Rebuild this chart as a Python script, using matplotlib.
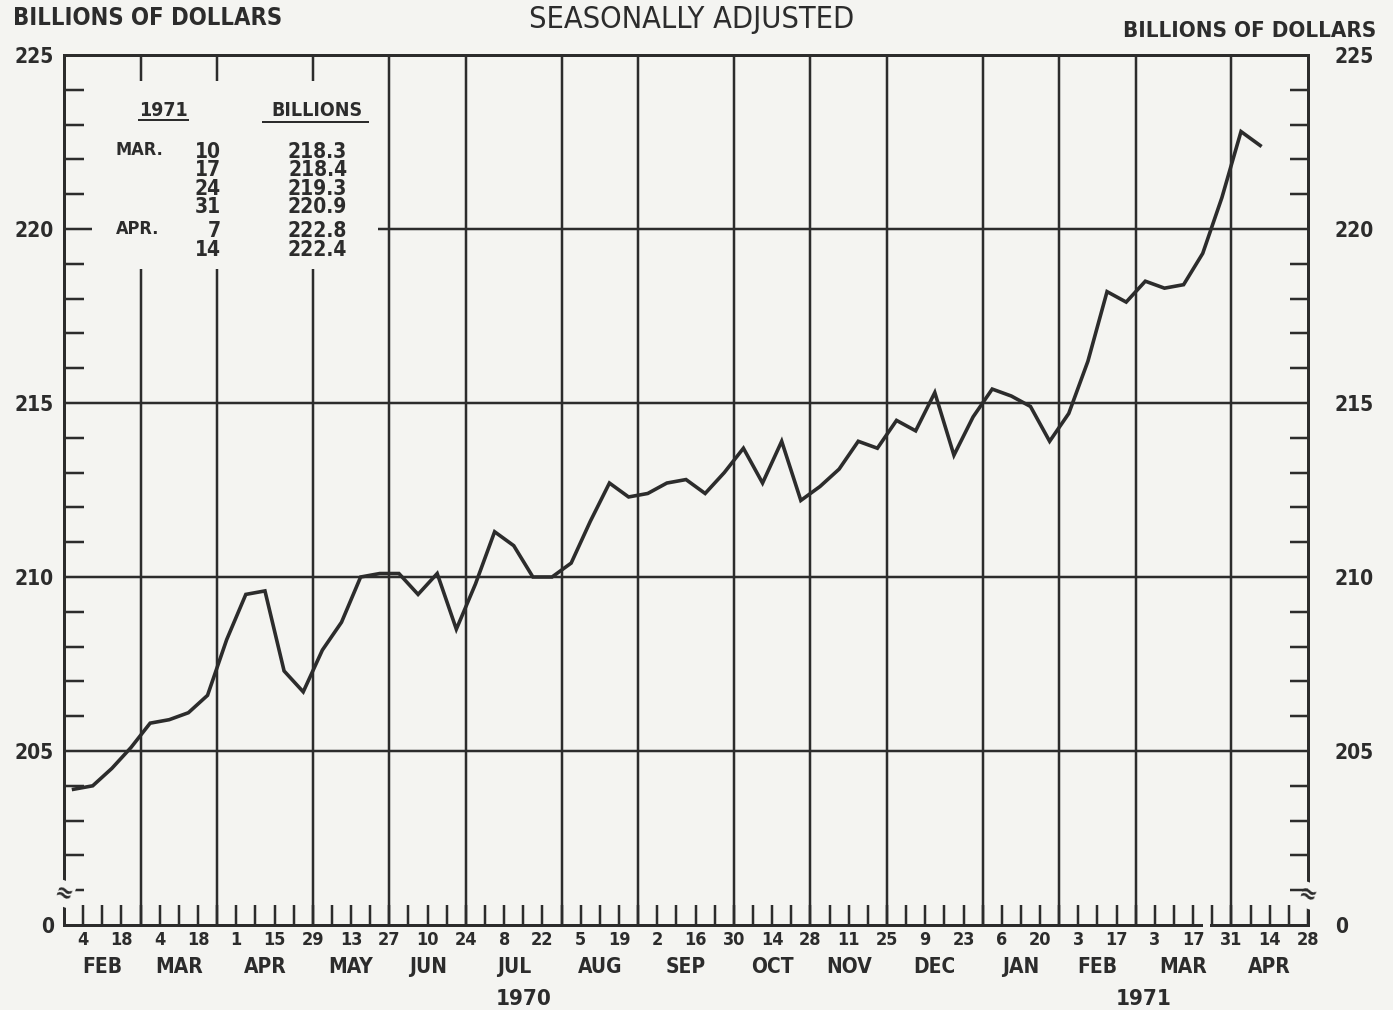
import numpy as np
import matplotlib
matplotlib.use('Agg')
import matplotlib.pyplot as plt

# weekly figures, Wednesdays from Feb 4 1970 to Apr 14 1971 (billions of dollars)
values = [203.9, 204.0, 204.5, 205.1, 205.8, 205.9, 206.1, 206.6, 208.2, 209.5,
          209.6, 207.3, 206.7, 207.9, 208.7, 210.0, 210.1, 210.1, 209.5, 210.1,
          208.5, 209.8, 211.3, 210.9, 210.0, 210.0, 210.4, 211.6, 212.7, 212.3,
          212.4, 212.7, 212.8, 212.4, 213.0, 213.7, 212.7, 213.9, 212.2, 212.6,
          213.1, 213.9, 213.7, 214.5, 214.2, 215.3, 213.5, 214.6, 215.4, 215.2,
          214.9, 213.9, 214.7, 216.2, 218.2, 217.9, 218.5, 218.3, 218.4, 219.3,
          220.9, 222.8, 222.4]

# labels for every other week (Feb 4 1970 ... Apr 28 1971)
day_labels = ['4', '18', '4', '18', '1', '15', '29', '13', '27', '10', '24', '8', '22',
              '5', '19', '2', '16', '30', '14', '28', '11', '25', '9', '23', '6', '20',
              '3', '17', '3', '17', '31', '14', '28']
months = ['FEB', 'MAR', 'APR', 'MAY', 'JUN', 'JUL', 'AUG', 'SEP', 'OCT', 'NOV', 'DEC',
          'JAN', 'FEB', 'MAR', 'APR']
month_ends = [0, 4, 8, 13, 17, 21, 26, 30, 35, 39, 43, 48, 52, 56, 61, 65]
years = ['1970', '1971']

table_month = ['MAR.', '', '', '', 'APR.', '']
table_days = ['10', '17', '24', '31', '7', '14']
table_values = values[-6:]

y_labels = ['0', '205', '210', '215', '220', '225']

BG = '#f4f4f1'
INK = '#2c2c2c'
PX = 72.0 / 100  # points per pixel

plt.rcParams['font.family'] = ['DejaVu Sans']
plt.rcParams['font.weight'] = 'bold'
plt.rcParams['font.stretch'] = 'condensed'

fig = plt.figure(figsize=(13.93, 10.10), dpi=100, facecolor=BG)
ax = fig.add_axes([64 / 1393, 1 - 925 / 1010, 1244 / 1393, 870 / 1010])
ax.set_facecolor(BG)
ax.set_xlim(0, month_ends[-1])
ax.set_ylim(200, 225)

# grid (the table block in the upper left is kept clear)
tbl_right, tbl_low, tbl_high = 16.4, 218.85, 224.25
for yv in [205, 210, 215]:
    ax.hlines(yv, 0, month_ends[-1], color=INK, lw=2.5 * PX, zorder=1)
ax.hlines(220, 0, 1.45, color=INK, lw=2.5 * PX, zorder=1)
ax.hlines(220, tbl_right, month_ends[-1], color=INK, lw=2.5 * PX, zorder=1)
for xv in month_ends[1:-1]:
    if xv < tbl_right:
        ax.vlines(xv, 200, tbl_low, color=INK, lw=2.5 * PX, zorder=1)
        ax.vlines(xv, tbl_high, 225, color=INK, lw=2.5 * PX, zorder=1)
    else:
        ax.vlines(xv, 200, 225, color=INK, lw=2.5 * PX, zorder=1)

# series, plotted mid-week
weeks = np.arange(1, len(values) + 1)
ax.plot(weeks - 0.5, values, color=INK, lw=3.6 * PX, solid_joinstyle='miter', zorder=3)

# spines
for s in ['left', 'right', 'top']:
    ax.spines[s].set_linewidth(3 * PX)
    ax.spines[s].set_color(INK)
ax.spines['bottom'].set_visible(False)
ax.plot([0, 59.4], [200, 200], color=INK, lw=3 * PX, clip_on=False, zorder=4)
ax.plot([59.95, 65], [200, 200], color=INK, lw=3 * PX, clip_on=False, zorder=4)

# x ticks: weekly, labels every second week
ax.set_xticks(np.arange(1, month_ends[-1] + 1, 2), day_labels)
ax.set_xticks(np.arange(1, month_ends[-1] + 1), minor=True)
ax.tick_params(axis='x', which='both', direction='in', length=20 * PX, width=2.5 * PX,
               color=INK, pad=4, labelsize=13, labelcolor=INK)

# y ticks left
ax.set_yticks([200, 205, 210, 215, 220, 225], y_labels)
ax.set_yticks([v for v in range(201, 225) if v % 5], minor=True)
ax.tick_params(axis='y', which='major', length=0, pad=10 * PX, labelsize=15, labelcolor=INK)
ax.tick_params(axis='y', which='minor', direction='in', length=20 * PX, width=2.5 * PX, color=INK)

# y ticks right
ax2 = ax.twinx()
ax2.set_ylim(200, 225)
for s in ax2.spines.values():
    s.set_visible(False)
ax2.set_yticks([200, 205, 210, 215, 220, 225], y_labels)
ax2.set_yticks([v for v in range(201, 225) if v % 5], minor=True)
ax2.tick_params(axis='y', which='major', length=0, pad=27 * PX, labelsize=15, labelcolor=INK)
ax2.tick_params(axis='y', which='minor', direction='in', length=18 * PX, width=2.5 * PX, color=INK)

# month and year labels
for i, m in enumerate(months):
    c = (month_ends[i] + month_ends[i + 1]) / 2
    ax.annotate(m, xy=(c, 0), xycoords=('data', 'axes fraction'), xytext=(0, -42 * PX),
                textcoords='offset points', ha='center', va='center', fontsize=15, color=INK)
for yr, c in zip(years, [24.0, 56.4]):
    ax.annotate(yr, xy=(c, 0), xycoords=('data', 'axes fraction'), xytext=(0, -74 * PX),
                textcoords='offset points', ha='center', va='center', fontsize=16, color=INK)

# axis break marks
for xb, yb in [(0, 200.9), (month_ends[-1], 200.85)]:
    ax.text(xb, yb, '≈', ha='center', va='center', fontsize=17, color=INK, rotation=-20,
            bbox=dict(fc=BG, ec='none', pad=0.5), zorder=6, clip_on=False)

# inset table
ax.text(5.2, 223.4, '1971', ha='center', va='center', fontsize=14, color=INK)
ax.plot([3.9, 6.5], [223.12, 223.12], color=INK, lw=2 * PX)
ax.text(13.2, 223.4, 'BILLIONS', ha='center', va='center', fontsize=14, color=INK)
ax.plot([10.4, 15.9], [223.08, 223.08], color=INK, lw=2 * PX)
row_y = [222.21, 221.69, 221.16, 220.64, 219.94, 219.4]
for yy, mo, d, v in zip(row_y, table_month, table_days, table_values):
    if mo:
        ax.text(2.7, yy + 0.05, mo, ha='left', va='center', fontsize=13, color=INK)
    ax.text(8.2, yy, d, ha='right', va='center', fontsize=15, color=INK)
    ax.text(14.8, yy, '%.1f' % v, ha='right', va='center', fontsize=15, color=INK)

# headings
fig.text(13 / 1393, 1 - 18 / 1010, 'BILLIONS OF DOLLARS', ha='left', va='center',
         fontsize=17, color=INK)
fig.text(1376 / 1393, 1 - 31 / 1010, 'BILLIONS OF DOLLARS', ha='right', va='center',
         fontsize=16, color=INK)
fig.text(692 / 1393, 1 - 19 / 1010, 'SEASONALLY ADJUSTED', ha='center', va='center',
         fontsize=22, fontweight='normal', color=INK)

plt.savefig('out.png', dpi=100, facecolor=BG)
